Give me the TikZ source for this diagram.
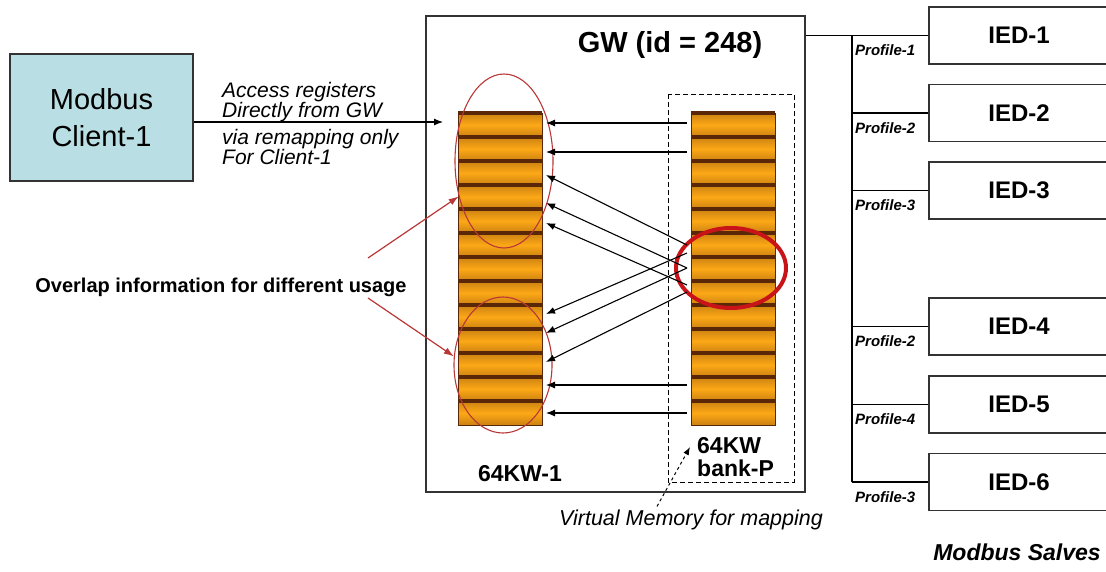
\documentclass[tikz,border=0pt]{standalone}
\usepackage{fontspec}
\setmainfont{Liberation Sans}
\usetikzlibrary{arrows.meta,positioning,shapes.geometric}

\definecolor{clientfill}{RGB}{185,222,227}
\definecolor{kworange}{RGB}{252,168,22}
\definecolor{kwdark}{RGB}{90,40,8}
\colorlet{kwmid}{kworange!70!kwdark}
\definecolor{ringred}{RGB}{200,20,25}
\definecolor{thinred}{RGB}{185,55,55}

\newcommand{\fsz}[2]{\fontsize{#1}{#2}\selectfont}

\begin{document}
\begin{tikzpicture}[
  x=1pt, y=-1pt,
  box/.style={draw=black!80, line width=1.2pt, inner sep=0pt},
  client/.style={box, fill=clientfill, minimum width=183pt, minimum height=127pt,
                 align=center, font=\fsz{29}{37}},
  ied/.style={box, minimum width=180pt, minimum height=57pt,
              font=\fsz{24}{26}\bfseries},
  prof/.style={font=\fsz{15}{15}\bfseries\itshape, inner sep=0pt, anchor=west},
  note/.style={font=\fsz{21}{20}\itshape, align=left, inner sep=0pt},
  lbl/.style={font=\fsz{23}{23}\bfseries, align=left, inner sep=0pt},
  arr/.style={-{Latex[length=9pt,width=7pt]}, line width=1.1pt},
  redarr/.style={-{Latex[length=10pt,width=7pt]}, line width=1.2pt, thinred},
  ring/.style={ellipse, draw=thinred, line width=1.1pt, inner sep=0pt},
  band/.style={kwdark, line width=4.5pt},
]
\useasboundingbox (0,0) rectangle (1106,571);

% modbus client
\node[client] (client) at (101.5,117.5) {Modbus\\Client-1};

% gateway
\node[box, minimum width=379pt, minimum height=476pt] (gw) at (615.5,254) {};
\node[font=\fsz{29}{29}\bfseries] (gwlbl) at (670,45) {GW (id = 248)};
\draw[dashed, dash pattern=on 5pt off 3pt, line width=1pt] (668,94) rectangle (794,482);

% register columns
\foreach \cx in {458,691}{
  \foreach \i in {0,...,12}
    \shade[top color=kwmid, bottom color=kwmid, middle color=kworange]
      (\cx,113+24*\i) rectangle ++(84,24);
  \foreach \i in {0,...,12}
    \draw[band] (\cx,113+24*\i) -- ++(84,0);
  \draw[kwdark, line width=1pt] (\cx,113) rectangle ++(84,312);
}
\node[lbl] (kw1) at (520,474) {64KW-1};
\node[lbl, anchor=west] (bankp) at (697,457) {64KW\\bank-P};

% overlap rings
\node[ring, minimum width=98pt, minimum height=174pt] (ovtop) at (504,161) {};
\node[ring, minimum width=98pt, minimum height=136pt] (ovbot) at (503,365) {};
\node[ring, draw=ringred, line width=4pt, minimum width=110pt,
      minimum height=80pt] (hot) at (731,268) {};

% mapping arrows
\foreach \n/\y in {1/123,2/152,3/175,4/203,5/223,9/314,10/333,11/362,12/385,13/413}
  \coordinate (kw1-\n) at (546,\y);
\foreach \n/\y in {1/123,2/152,6/245,6b/253,7/268,8/285,8b/292,12/385,13/413}
  \coordinate (bp-\n) at (687,\y);
\foreach \a/\b in {1/1,2/2,6/3,7/4,8/5,6b/9,7/10,8b/11,12/12,13/13}
  \draw[arr] (bp-\a) -- (kw1-\b);

% client access
\coordinate (acc) at (443,122);
\draw[arr] (client.east |- acc) -- (acc);
\node[note, anchor=south west] (acc1) at (222,122) {Access registers\\Directly from GW};
\node[note, anchor=north west] (acc2) at (222,129) {via remapping only\\For Client-1};

% overlap note
\node[font=\fsz{20}{20}\bfseries] (ovl) at (221,287) {Overlap information for different usage};
\coordinate (ovl-up) at (368,258);
\coordinate (ovl-dn) at (368,298);
\draw[redarr] (ovl-up) -- (ovtop.218);
\draw[redarr] (ovl-dn) -- (ovbot.170);

% virtual memory
\node[font=\fsz{21.5}{22}\itshape] (vm) at (691,520) {Virtual Memory for mapping};
\coordinate (vtip) at (690,447);
\draw[-{Latex[length=8pt,width=6pt]}, dashed, line width=1pt] ([xshift=-34pt]vm.north) -- (vtip);

% slaves
\foreach \k/\y in {1/35.5,2/113,3/190.5,4/326.5,5/404.5,6/482}
  \node[ied] (ied\k) at (1019,\y) {IED-\k};
\coordinate (bus-top) at (852,35.5);
\coordinate (bus-bot) at (852,482);
\draw[line width=1.1pt] (gw.east |- ied1.west) -- (ied1.west);
\draw[line width=1.1pt] (bus-top) -- (bus-bot);
\foreach \k/\p in {1/1,2/2,3/3,4/2,5/4,6/3}{
  \coordinate (b\k) at (bus-top |- ied\k.west);
  \draw[line width=1.1pt] (b\k) -- (ied\k.west);
  \node[prof] (prof\k) at ([xshift=3pt,yshift=-15pt]b\k) {Profile-\p};
}
\node[font=\fsz{23}{23}\bfseries\itshape] (slaves) at (1017,552) {Modbus Salves};
\end{tikzpicture}
\end{document}
